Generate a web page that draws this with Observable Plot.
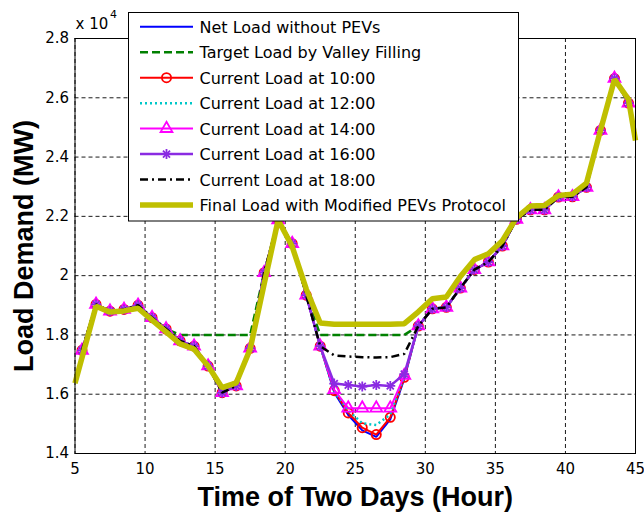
<!DOCTYPE html>
<html>
<head>
<meta charset="utf-8">
<script src="https://cdn.jsdelivr.net/npm/d3@7"></script>
<script src="https://cdn.jsdelivr.net/npm/@observablehq/plot@0.6"></script>
<style>
  html, body { margin: 0; padding: 0; background: #fff; }
  #wrap { position: relative; width: 644px; height: 512px; }
  #wrap svg { position: absolute; left: 0; top: 0; }
</style>
</head>
<body>
<div id="wrap"></div>
<script>
// ---- data (load in units of 10^4 MW) ----
const hours = [5.5, 6.5, 7.5, 8.5, 9.5, 10.5, 11.5, 12.5, 13.5, 14.5, 15.5, 16.5, 17.5, 18.5, 19.5, 20.5,
  21.5, 22.5, 23.5, 24.5, 25.5, 26.5, 27.5, 28.5, 29.5, 30.5, 31.5, 32.5, 33.5, 34.5, 35.5, 36.5,
  37.5, 38.5, 39.5, 40.5, 41.5, 42.5, 43.5, 44.5];

const netLoad = [1.748, 1.903, 1.880, 1.886, 1.900, 1.858, 1.820, 1.780, 1.762, 1.695, 1.605, 1.628, 1.755, 2.010, 2.188, 2.108,
  1.934, 1.762, 1.606, 1.530, 1.478, 1.456, 1.515, 1.652, 1.830, 1.888, 1.893, 1.958, 2.020, 2.046, 2.100, 2.190,
  2.222, 2.222, 2.265, 2.266, 2.298, 2.490, 2.665, 2.582];

const targetLoad = [1.748, 1.903, 1.880, 1.886, 1.900, 1.858, 1.820, 1.800, 1.800, 1.800, 1.800, 1.800, 1.800, 2.010, 2.188, 2.108,
  1.934, 1.800, 1.800, 1.800, 1.800, 1.800, 1.800, 1.800, 1.830, 1.888, 1.893, 1.958, 2.020, 2.046, 2.100, 2.190,
  2.222, 2.222, 2.265, 2.266, 2.298, 2.490, 2.665, 2.582];

const load10 = [1.748, 1.903, 1.880, 1.886, 1.900, 1.858, 1.820, 1.780, 1.762, 1.695, 1.605, 1.628, 1.755, 2.010, 2.188, 2.108,
  1.934, 1.762, 1.612, 1.537, 1.487, 1.464, 1.522, 1.657, 1.830, 1.888, 1.893, 1.958, 2.020, 2.046, 2.100, 2.190,
  2.222, 2.222, 2.265, 2.266, 2.298, 2.490, 2.665, 2.582];

const load12 = [1.748, 1.903, 1.880, 1.886, 1.900, 1.858, 1.820, 1.780, 1.762, 1.695, 1.605, 1.628, 1.755, 2.010, 2.188, 2.108,
  1.934, 1.762, 1.610, 1.545, 1.502, 1.496, 1.532, 1.660, 1.830, 1.888, 1.893, 1.958, 2.020, 2.046, 2.100, 2.190,
  2.222, 2.222, 2.265, 2.266, 2.298, 2.490, 2.665, 2.582];

const load14 = [1.748, 1.903, 1.880, 1.886, 1.900, 1.858, 1.820, 1.780, 1.762, 1.695, 1.605, 1.628, 1.755, 2.010, 2.188, 2.108,
  1.934, 1.762, 1.615, 1.553, 1.553, 1.553, 1.553, 1.663, 1.830, 1.888, 1.893, 1.958, 2.020, 2.046, 2.100, 2.190,
  2.222, 2.222, 2.265, 2.266, 2.298, 2.490, 2.665, 2.582];

const load16 = [1.748, 1.903, 1.880, 1.886, 1.900, 1.858, 1.820, 1.780, 1.762, 1.695, 1.605, 1.628, 1.755, 2.010, 2.188, 2.108,
  1.934, 1.762, 1.636, 1.631, 1.626, 1.631, 1.628, 1.668, 1.830, 1.888, 1.893, 1.958, 2.020, 2.046, 2.100, 2.190,
  2.222, 2.222, 2.265, 2.266, 2.298, 2.490, 2.665, 2.582];

const load18 = [1.748, 1.903, 1.880, 1.886, 1.900, 1.858, 1.820, 1.780, 1.762, 1.695, 1.605, 1.628, 1.755, 2.010, 2.188, 2.108,
  1.934, 1.762, 1.731, 1.727, 1.725, 1.724, 1.725, 1.736, 1.830, 1.888, 1.893, 1.958, 2.020, 2.046, 2.100, 2.190,
  2.222, 2.222, 2.265, 2.266, 2.298, 2.490, 2.665, 2.582];

const finalHours = [5, 6.5, 7.5, 8.5, 9.5, 10.5, 11.5, 12.5, 13.5, 14.5, 15.5, 16.5, 17.5, 18.5, 19.5, 20.5,
  21.5, 22.5, 23.5, 24.5, 25.5, 26.5, 27.5, 28.5, 29.5, 30.5, 31.5, 32.5, 33.5, 34.5, 35.5, 36.5,
  37.5, 38.5, 39.5, 40.5, 41.5, 42.5, 43.5, 44.5, 45];
const finalLoad = [1.637, 1.897, 1.877, 1.881, 1.890, 1.850, 1.810, 1.770, 1.752, 1.695, 1.622, 1.638, 1.752, 1.972, 2.188, 2.098,
  1.955, 1.840, 1.836, 1.836, 1.836, 1.836, 1.836, 1.838, 1.878, 1.922, 1.928, 1.997, 2.054, 2.074, 2.118, 2.195,
  2.235, 2.237, 2.270, 2.275, 2.312, 2.490, 2.662, 2.595, 2.456];

const xTicks = [5, 10, 15, 20, 25, 30, 35, 40, 45];
const yTicks = [1.4, 1.6, 1.8, 2, 2.2, 2.4, 2.6, 2.8];
const yTickLabels = ["1.4", "1.6", "1.8", "2", "2.2", "2.4", "2.6", "2.8"];

const seriesNames = [
  "Net Load without PEVs",
  "Target Load by Valley Filling",
  "Current Load at 10:00",
  "Current Load at 12:00",
  "Current Load at 14:00",
  "Current Load at 16:00",
  "Current Load at 18:00",
  "Final Load with Modified PEVs Protocol"
];

// ---- styles ----
const C = {
  blue: "#0000ff", green: "#008000", red: "#ff0000", cyan: "#00c8c8",
  magenta: "#ff00ff", purple: "#8a2be2", black: "#000000", yellow: "#bfbf00"
};
const S = [
  {stroke: C.blue, strokeWidth: 2},
  {stroke: C.green, strokeWidth: 2.5, strokeDasharray: "8,4"},
  {stroke: C.red, strokeWidth: 2, marker: "circle"},
  {stroke: C.cyan, strokeWidth: 2.5, strokeDasharray: "2,3"},
  {stroke: C.magenta, strokeWidth: 2, marker: "triangle"},
  {stroke: C.purple, strokeWidth: 2.5, marker: "star"},
  {stroke: C.black, strokeWidth: 2.5, strokeDasharray: "8,4,2,4"},
  {stroke: C.yellow, strokeWidth: 5.5}
];

const rows = (xs, ys) => xs.map((h, i) => ({h, v: ys[i]}));
const seriesData = [
  rows(hours, netLoad), rows(hours, targetLoad), rows(hours, load10), rows(hours, load12),
  rows(hours, load14), rows(hours, load16), rows(hours, load18), rows(finalHours, finalLoad)
];

function markerMarks(data, s) {
  if (s.marker === "circle") return [Plot.dot(data, {x: "h", y: "v", r: 4.6, stroke: s.stroke, strokeWidth: 1.8, fill: "none"})];
  if (s.marker === "triangle") return [Plot.dot(data, {x: "h", y: "v", symbol: "triangle", r: 4.4, stroke: s.stroke, strokeWidth: 1.8, fill: "none"})];
  if (s.marker === "star") return [
    Plot.dot(data, {x: "h", y: "v", symbol: "plus", r: 3.3, stroke: s.stroke, strokeWidth: 1.8}),
    Plot.dot(data, {x: "h", y: "v", symbol: "times", r: 3.3, stroke: s.stroke, strokeWidth: 1.8})
  ];
  return [];
}

const dataMarks = [];
seriesData.forEach((data, i) => {
  const s = S[i];
  dataMarks.push(Plot.line(data, {x: "h", y: "v", stroke: s.stroke, strokeWidth: s.strokeWidth,
    strokeDasharray: s.strokeDasharray, strokeLinejoin: "miter", strokeLinecap: "butt"}));
  dataMarks.push(...markerMarks(data, s));
});

const gridStyle = {stroke: "black", strokeOpacity: 1, strokeWidth: 0.9, strokeDasharray: "4,3"};

const chart = Plot.plot({
  width: 644, height: 512,
  marginLeft: 74.5, marginRight: 9, marginTop: 38, marginBottom: 59,
  style: {fontFamily: "'DejaVu Sans', sans-serif", fontSize: "15px", color: "black", background: "white"},
  x: {domain: [5, 45]},
  y: {domain: [1.4, 2.8]},
  marks: [
    Plot.gridX(xTicks, gridStyle),
    Plot.gridY(yTicks, gridStyle),
    ...dataMarks,
    Plot.frame({stroke: "black", strokeWidth: 1}),
    Plot.axisX(xTicks, {tickSize: 0, tickPadding: 10, fontSize: 15, label: null}),
    Plot.axisY(yTicks, {tickSize: 0, tickPadding: 6, fontSize: 15, label: null,
      tickFormat: (d) => yTickLabels[yTicks.indexOf(d)]}),
    Plot.text(["Time of Two Days (Hour)"], {text: d => d, frameAnchor: "bottom", dy: 52, lineAnchor: "bottom",
      textAnchor: "middle", fontSize: 27, fontWeight: "bold", fontFamily: "'Liberation Sans', Arial, sans-serif"}),
    Plot.text(["Load Demand (MW)"], {text: d => d, frameAnchor: "left", dx: -42.5, rotate: -90, lineAnchor: "bottom",
      textAnchor: "middle", fontSize: 27, fontWeight: "bold", fontFamily: "'Liberation Sans', Arial, sans-serif"}),
    Plot.text(["x 10"], {text: d => d, frameAnchor: "top-left", textAnchor: "start", lineAnchor: "bottom",
      dx: 0.5, dy: -9.7, fontSize: 15}),
    Plot.text(["4"], {text: d => d, frameAnchor: "top-left", textAnchor: "start", lineAnchor: "bottom",
      dx: 35, dy: -21, fontSize: 11})
  ]
});

const wrap = document.getElementById("wrap");
wrap.appendChild(chart);

// ---- legend overlay ----
const lg = d3.select(wrap).append("svg")
  .attr("width", 644).attr("height", 512)
  .style("pointer-events", "none")
  .style("font-family", "'DejaVu Sans', sans-serif");

const box = {x: 128.5, y: 12.5, w: 390, h: 208.5};
lg.append("rect").attr("x", box.x).attr("y", box.y).attr("width", box.w).attr("height", box.h)
  .attr("fill", "white").attr("stroke", "black").attr("stroke-width", 1);

const rowY0 = 26.8, rowDy = 25.45, sx0 = 140, sx1 = 193, sxm = 166.5, tx = 199.5;
seriesNames.forEach((name, i) => {
  const s = S[i];
  const y = rowY0 + i * rowDy;
  lg.append("line").attr("x1", sx0).attr("x2", sx1).attr("y1", y).attr("y2", y)
    .attr("stroke", s.stroke).attr("stroke-width", s.strokeWidth)
    .attr("stroke-dasharray", s.strokeDasharray || null);
  if (s.marker === "circle") {
    lg.append("circle").attr("cx", sxm).attr("cy", y).attr("r", 4.6)
      .attr("fill", "none").attr("stroke", s.stroke).attr("stroke-width", 1.8);
  } else if (s.marker === "triangle") {
    lg.append("path").attr("transform", `translate(${sxm},${y})`)
      .attr("d", d3.symbol(d3.symbolTriangle, Math.PI * 4.4 * 4.4)())
      .attr("fill", "none").attr("stroke", s.stroke).attr("stroke-width", 1.8);
  } else if (s.marker === "star") {
    [d3.symbolPlus, d3.symbolTimes].forEach(sym => {
      lg.append("path").attr("transform", `translate(${sxm},${y})`)
        .attr("d", d3.symbol(sym, Math.PI * 3.3 * 3.3)())
        .attr("fill", "none").attr("stroke", s.stroke).attr("stroke-width", 1.8);
    });
  }
  lg.append("text").attr("x", tx).attr("y", y + 6).attr("font-size", 16).attr("fill", "black").text(name);
});
</script>
</body>
</html>
